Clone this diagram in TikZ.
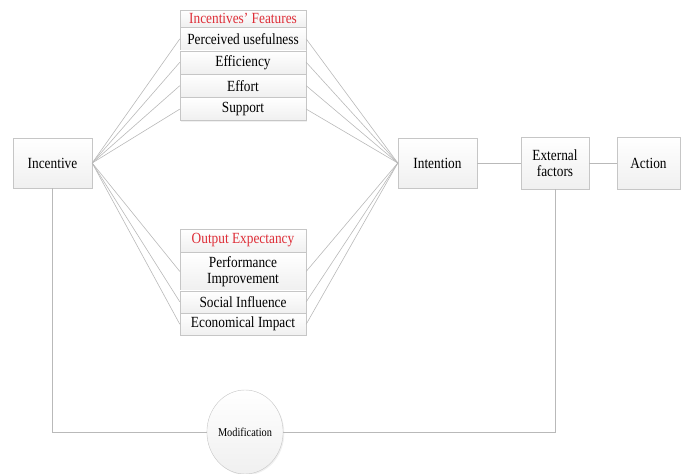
\documentclass[tikz,border=0pt]{standalone}
\usepackage{fontspec}
\setmainfont{Liberation Serif}[FakeStretch=0.86]
\usetikzlibrary{shapes,positioning,shadows}
\definecolor{hdred}{RGB}{222,45,55}

\begin{document}
\begin{tikzpicture}[x=1pt, y=-1pt, node distance=0pt, auto]
    \tikzstyle{block} = [rectangle, draw=gray!45, top color=white, bottom color=gray!12, text centered, align=center, font=\fontsize{15.5}{16}\selectfont, inner sep=1pt, drop shadow={opacity=0.12, shadow xshift=1.2pt, shadow yshift=-1.2pt}]
    \tikzstyle{row} = [block, minimum width=126pt, minimum height=23pt]
    \tikzstyle{head} = [row, text=hdred]
    \tikzstyle{line} = [draw=gray!55, line width=0.6pt]

    \useasboundingbox (0,0) rectangle (689,474);

    \node [head, minimum height=17pt] (feat) at (243,18.5) {Incentives' Features};
    \node [row, below=of feat] (useful) {Perceived usefulness};
    \node [row, below=of useful] (effic) {Efficiency};
    \node [row, below=of effic] (effort) {Effort};
    \node [row, below=of effort] (support) {Support};

    \node [head] (expect) at (243,240.5) {Output Expectancy};
    \node [row, minimum height=38pt, below=of expect] (perform) {Performance\\Improvement};
    \node [row, minimum height=22pt, below=of perform] (social) {Social Influence};
    \node [row, minimum height=22pt, below=of social] (econ) {Economical Impact};

    \node [block, minimum width=79pt, minimum height=50pt] (incent) at (52.5,163) {Incentive};
    \node [block, minimum width=79pt, minimum height=50pt] (intent) at (437.5,163) {Intention};
    \node [block, minimum width=68pt, minimum height=52pt] (ext) at (555,163) {External\\factors};
    \node [block, minimum width=63pt, minimum height=52pt] (act) at (648.5,163) {Action};
    \node [block, ellipse, minimum width=70pt, minimum height=84pt, inner sep=0pt, font=\fontsize{12}{12}\selectfont] (mod) at (245,432) {Modification};

    \path [line] (incent.east) -- (useful.west);
    \path [line] (incent.east) -- (effic.west);
    \path [line] (incent.east) -- (effort.west);
    \path [line] (incent.east) -- (support.west);
    \path [line] (useful.east) -- (intent.west);
    \path [line] (effic.east) -- (intent.west);
    \path [line] (effort.east) -- (intent.west);
    \path [line] (support.east) -- (intent.west);

    \path [line] (incent.east) -- (perform.west);
    \path [line] (incent.east) -- (social.west);
    \path [line] (incent.east) -- (econ.west);
    \path [line] (perform.east) -- (intent.west);
    \path [line] (social.east) -- (intent.west);
    \path [line] (econ.east) -- (intent.west);

    \path [line] (intent) -- (ext);
    \path [line] (ext) -- (act);
    \path [line] (incent.south) |- (mod.west);
    \path [line] (ext.south) |- (mod.east);
\end{tikzpicture}
\end{document}
